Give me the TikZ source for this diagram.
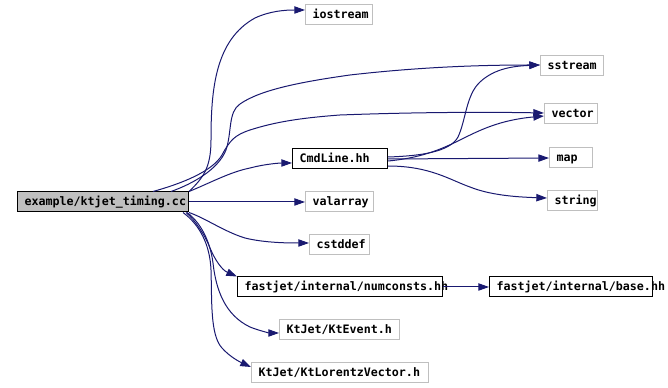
\documentclass[tikz,border=0pt]{standalone}
\usepackage{fontspec}
\setmonofont{DejaVu Sans Mono}
\usetikzlibrary{arrows.meta}
\definecolor{edgeblue}{HTML}{191970}
\definecolor{boxgray}{HTML}{BFBFBF}

\begin{document}
\begin{tikzpicture}[x=0.75pt,y=-0.75pt,
  file/.style={line width=0.75pt, anchor=west, minimum height=15pt, inner xsep=5.25pt, inner ysep=0pt,
    align=left, text height=6.5pt, text depth=1.5pt, font=\ttfamily\bfseries\fontsize{8.75}{10}\selectfont},
  own/.style={file, draw=black, fill=white},
  sys/.style={file, draw=boxgray, fill=white},
  dep/.style={->, >={Triangle[length=8pt,width=5.5pt]}, draw=edgeblue, line width=0.75pt}]
\useasboundingbox (0,0) rectangle (668,388);

\node[own, fill=boxgray, text width=117.75pt] (main) at (17,202) {example/ktjet\_timing.cc};

\node[sys, text width=39.75pt] (iostream) at (305,15) {iostream};
\node[sys, text width=36.75pt] (sstream) at (540,66) {sstream};
\node[sys, text width=29.25pt] (vector) at (544,114) {vector};
\node[own, text width=60.75pt] (cmdline) at (292,159) {CmdLine.hh};
\node[sys, text width=21.75pt] (map) at (549,158) {map};
\node[sys, text width=27pt] (string) at (547,201) {string};
\node[sys, text width=40.5pt] (valarray) at (305,202) {valarray};
\node[sys, text width=34.5pt] (cstddef) at (309,245) {cstddef};
\node[own, text width=143.25pt] (numconsts) at (237,287) {fastjet/internal/numconsts.hh};
\node[own, text width=111.75pt] (base) at (489,287) {fastjet/internal/base.hh};
\node[sys, text width=79.5pt] (ktevent) at (279,330) {KtJet/KtEvent.h};
\node[sys, text width=122.25pt] (ktlorentz) at (251,373) {KtJet/KtLorentzVector.h};

% includes of the timing example
\draw[dep] (main.north east) .. controls (203,178) and (211,168) .. (211,140)
  .. controls (211,90) and (215,40) .. (255,18) .. controls (270,11) and (285,10) .. ([yshift=3.75pt]iostream.west);
\draw[dep] ([xshift=-13.5pt]main.north east) .. controls (192,184) and (218,170) .. (226,150)
  .. controls (232,132) and (228,112) .. (240,104) .. controls (260,90) and (300,82) .. (350,75)
  .. controls (420,67) and (480,65) .. ([yshift=0.75pt]sstream.west);
\draw[dep] ([xshift=-27pt]main.north east) .. controls (180,184) and (212,172) .. (222,155)
  .. controls (230,140) and (235,135) .. (250,130) .. controls (275,122) and (300,118) .. (340,115)
  .. controls (420,112) and (490,112) .. ([yshift=0.75pt]vector.west);
\draw[dep] (main.north east) .. controls (210,183) and (230,172) .. (250,168)
  .. controls (265,164) and (280,163) .. ([yshift=-3pt]cmdline.west);
\draw[dep] (main.east) -- (valarray.west);
\draw[dep] (main.south east) .. controls (205,218) and (225,232) .. (245,238)
  .. controls (265,243) and (290,243) .. ([yshift=1.5pt]cstddef.west);
\draw[dep] ([xshift=-2.25pt]main.south east) .. controls (195,220) and (205,235) .. (210,248)
  .. controls (215,260) and (222,270) .. (numconsts.north west);
\draw[dep] ([xshift=-1.5pt]main.south east) .. controls (200,222) and (210,240) .. (213,263)
  .. controls (216,290) and (225,315) .. (250,327) .. controls (260,331) and (270,333) .. ([yshift=-2.25pt]ktevent.west);
\draw[dep] ([xshift=-4.5pt]main.south east) .. controls (200,225) and (210,245) .. (211,270)
  .. controls (212,300) and (210,335) .. (222,348) .. controls (230,357) and (240,362) .. ([yshift=4.5pt]ktlorentz.west);

% includes of CmdLine.hh
\draw[dep] ([yshift=1.5pt]cmdline.east) .. controls (420,156) and (450,152) .. (458,137)
  .. controls (466,120) and (466,95) .. (480,82) .. controls (495,68) and (515,66) .. ([yshift=0.75pt]sstream.west);
\draw[dep] ([yshift=-1.5pt]cmdline.east) .. controls (420,158) and (440,150) .. (460,140)
  .. controls (480,130) and (500,120) .. ([yshift=-1.5pt]vector.west);
\draw[dep] (cmdline.east) -- (map.west);
\draw[dep] ([yshift=-5.25pt]cmdline.east) .. controls (430,166) and (450,180) .. (470,187)
  .. controls (490,195) and (515,197) .. ([yshift=2.25pt]string.west);

\draw[dep] (numconsts.east) -- (base.west);

\end{tikzpicture}
\end{document}
